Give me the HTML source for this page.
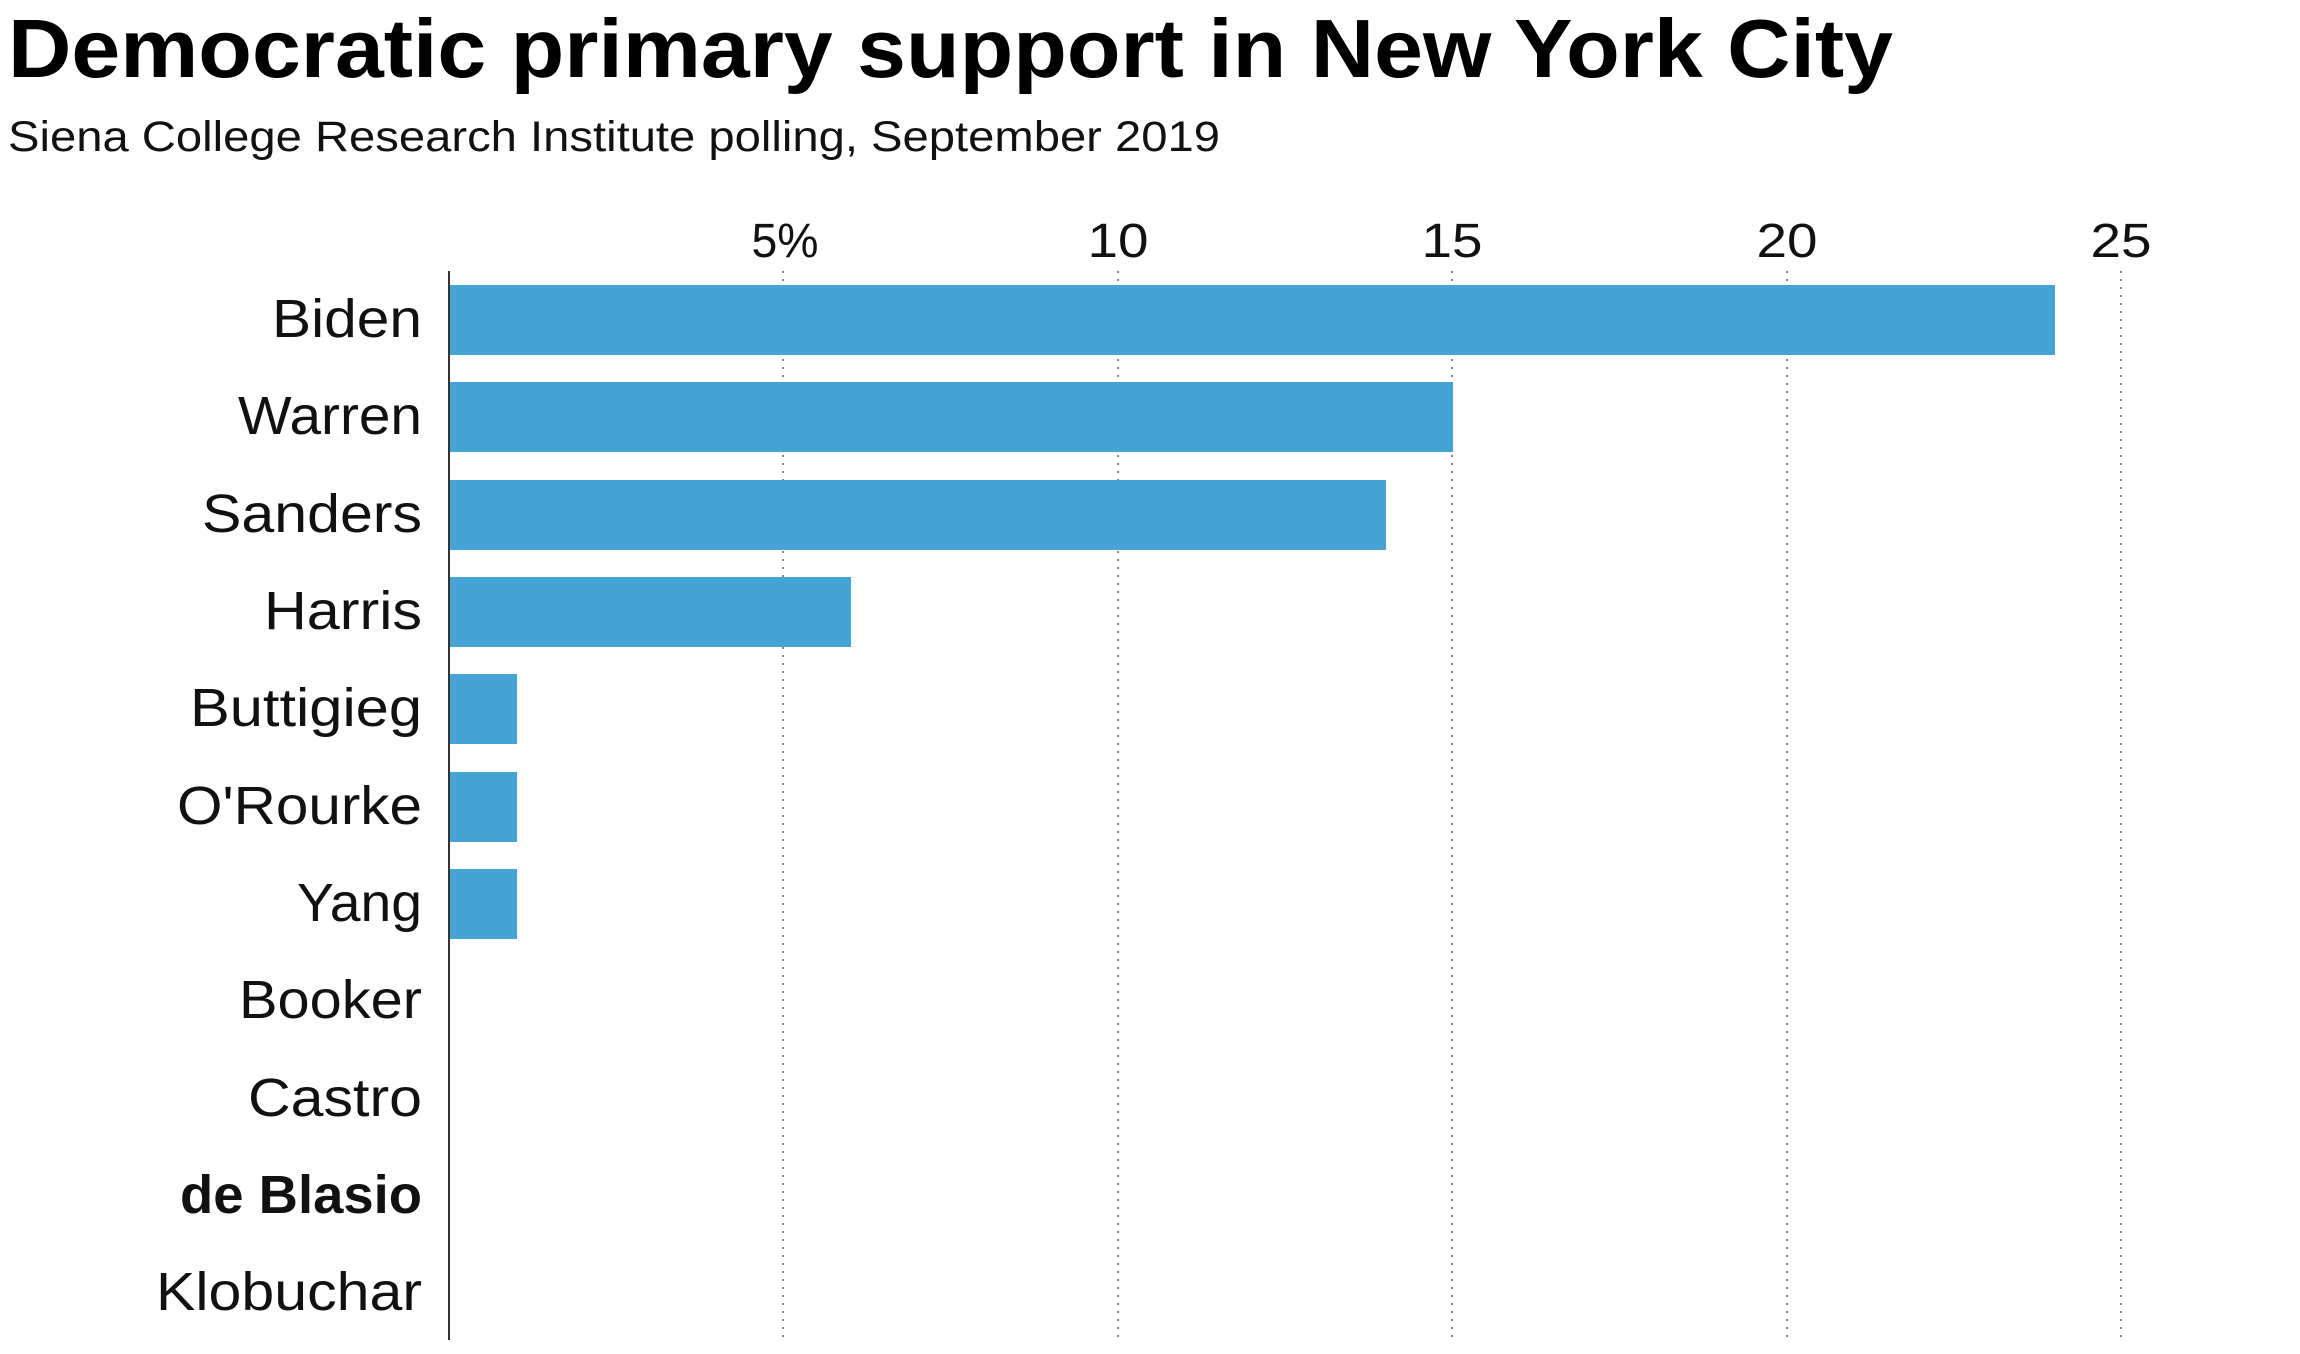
<!DOCTYPE html>
<html><head><style>html,body{margin:0;padding:0;background:#fff;}svg{display:block;}</style></head>
<body>
<svg width="2300" height="1354" xmlns="http://www.w3.org/2000/svg" font-family="Liberation Sans, sans-serif">
<text x="8" y="77" font-size="83" font-weight="bold" textLength="1885" lengthAdjust="spacingAndGlyphs" fill="#000">Democratic primary support in New York City</text>
<text x="8" y="151" font-size="43" textLength="1212" lengthAdjust="spacingAndGlyphs" fill="#111">Siena College Research Institute polling, September 2019</text>
<g stroke="#888" stroke-width="2" stroke-dasharray="2,6">
<line x1="783" y1="271" x2="783" y2="1340"/>
<line x1="1118" y1="271" x2="1118" y2="1340"/>
<line x1="1452" y1="271" x2="1452" y2="1340"/>
<line x1="1787" y1="271" x2="1787" y2="1340"/>
<line x1="2121" y1="271" x2="2121" y2="1340"/>
</g>
<g font-size="48" text-anchor="middle" fill="#111">
<text x="785" y="257" textLength="67" lengthAdjust="spacingAndGlyphs">5%</text>
<text x="1118" y="257" textLength="61" lengthAdjust="spacingAndGlyphs">10</text>
<text x="1452" y="257" textLength="61" lengthAdjust="spacingAndGlyphs">15</text>
<text x="1787" y="257" textLength="61" lengthAdjust="spacingAndGlyphs">20</text>
<text x="2121" y="257" textLength="61" lengthAdjust="spacingAndGlyphs">25</text>
</g>
<g fill="#46a3d5">
<rect x="450" y="285" width="1605" height="70"/>
<rect x="450" y="382" width="1003" height="70"/>
<rect x="450" y="480" width="936" height="70"/>
<rect x="450" y="577" width="401" height="70"/>
<rect x="450" y="674" width="67" height="70"/>
<rect x="450" y="772" width="67" height="70"/>
<rect x="450" y="869" width="67" height="70"/>
</g>
<line x1="449" y1="271" x2="449" y2="1340" stroke="#333" stroke-width="2"/>
<g font-size="54" text-anchor="end" fill="#111">
<text x="422" y="337" textLength="150" lengthAdjust="spacingAndGlyphs">Biden</text>
<text x="422" y="434" textLength="184" lengthAdjust="spacingAndGlyphs">Warren</text>
<text x="422" y="532" textLength="220" lengthAdjust="spacingAndGlyphs">Sanders</text>
<text x="422" y="629" textLength="158" lengthAdjust="spacingAndGlyphs">Harris</text>
<text x="422" y="726" textLength="232" lengthAdjust="spacingAndGlyphs">Buttigieg</text>
<text x="422" y="824" textLength="245" lengthAdjust="spacingAndGlyphs">O'Rourke</text>
<text x="422" y="921" textLength="125" lengthAdjust="spacingAndGlyphs">Yang</text>
<text x="422" y="1018" textLength="183" lengthAdjust="spacingAndGlyphs">Booker</text>
<text x="422" y="1116" textLength="174" lengthAdjust="spacingAndGlyphs">Castro</text>
<text x="422" y="1213" textLength="242" lengthAdjust="spacingAndGlyphs" font-weight="bold">de Blasio</text>
<text x="422" y="1310" textLength="266" lengthAdjust="spacingAndGlyphs">Klobuchar</text>
</g>
</svg>
</body></html>
